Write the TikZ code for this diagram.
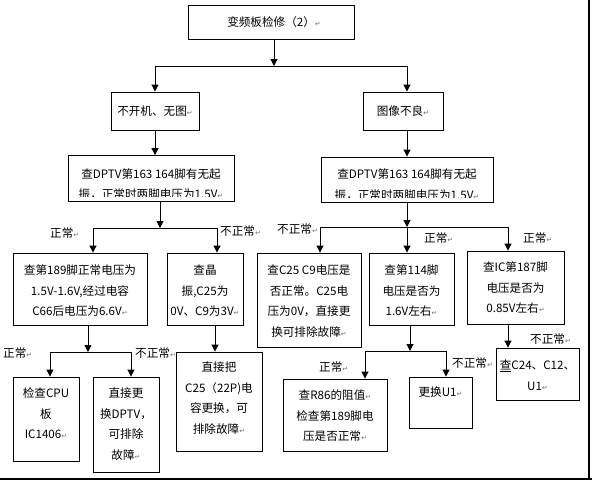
\documentclass[tikz,border=0pt]{standalone}
\usepackage{fontspec}
\setmainfont{Noto Sans CJK SC}
\newfontfamily\symfont{DejaVu Sans}
\usetikzlibrary{arrows.meta,calc}
\newcommand{\ret}{{\symfont\fontsize{7}{7}\selectfont\textcolor{black!55}{↵}}}
\begin{document}
\begin{tikzpicture}[x=1pt,y=-1pt,
  box/.style={draw, line width=0.9pt, inner sep=0pt},
  txt/.style={align=center, inner sep=0pt, anchor=north, font=\fontsize{11.6}{20.5}\selectfont},
  lbl/.style={inner sep=0pt, anchor=west, font=\fontsize{11.6}{14}\selectfont},
  arr/.style={line width=1pt, -{Triangle[length=7pt,width=7pt]}},
  ln/.style={line width=1pt}]
\useasboundingbox (0,0) rectangle (592,480);
\fill[white] (0,0) rectangle (592,480);
% boxes
\node[box, minimum width=166, minimum height=34] (top) at (271,22) {};
\node[box, minimum width=88, minimum height=38] (b1) at (155,111) {};
\node[box, minimum width=80, minimum height=38] (b2) at (403,111) {};
\node[box, minimum width=166, minimum height=46] (d1) at (151,178.5) {};
\node[box, minimum width=172, minimum height=45] (d2) at (407,179.5) {};
\node[box, minimum width=134, minimum height=72] (e1) at (80,289) {};
\node[box, minimum width=76, minimum height=72] (e2) at (205,289) {};
\node[box, minimum width=104, minimum height=94] (e3) at (309,300) {};
\node[box, minimum width=85, minimum height=72] (e4) at (411.5,289) {};
\node[box, minimum width=97, minimum height=73] (e5) at (515.5,287.5) {};
\node[box, minimum width=66, minimum height=84] (f1) at (46,419) {};
\node[box, minimum width=66, minimum height=95] (f2) at (126,424.5) {};
\node[box, minimum width=86, minimum height=99] (f3) at (219,401.5) {};
\node[box, minimum width=104, minimum height=72] (f4) at (335,415) {};
\node[box, minimum width=63, minimum height=51] (f5) at (440.5,402.5) {};
\node[box, minimum width=83, minimum height=52] (f6) at (537.5,374) {};
% texts
\node[txt, anchor=center] (topt) at ($(top.center)+(3,0)$) {变频板检修（2）\ret};
\node[txt, anchor=center] (b1t) at (b1.center) {不开机、无图\ret};
\node[txt, anchor=center] (b2t) at (b2.center) {图像不良\ret};
\begin{scope}
\clip (d1.north west) rectangle ($(d1.south east)+(0,-5)$);
\node[txt] (d1t) at ($(d1.north)+(0,13)$) {查DPTV第163 164脚有无起\\振，正常时两脚电压为1.5V\ret};
\end{scope}
\begin{scope}
\clip (d2.north west) rectangle ($(d2.south east)+(0,-5)$);
\node[txt] (d2t) at ($(d2.north)+(0,12)$) {查DPTV第163 164脚有无起\\振，正常时两脚电压为1.5V\ret};
\end{scope}
\node[txt] (e1t) at ($(e1.north)+(0,12)$) {查第189脚正常电压为\\1.5V-1.6V,经过电容\\C66后电压为6.6V\ret};
\node[txt] (e2t) at ($(e2.north)+(0,12)$) {查晶\\振,C25为\\0V、C9为3V\ret};
\node[txt] (e3t) at ($(e3.north)+(0,12)$) {查C25 C9电压是\\否正常。C25电\\压为0V，直接更\\换可排除故障\ret};
\node[txt] (e4t) at ($(e4.north)+(0,12)$) {查第114脚\\电压是否为\\1.6V左右\ret};
\node[txt] (e5t) at ($(e5.north)+(0,11)$) {查IC第187脚\\电压是否为\\0.85V左右\ret};
\node[txt] (f1t) at ($(f1.north)+(0,11)$) {检查CPU\\板\\IC1406\ret};
\node[txt] (f2t) at ($(f2.north)+(0,11)$) {直接更\\换DPTV，\\可排除\\故障\ret};
\node[txt] (f3t) at ($(f3.north)+(0,10)$) {直接把\\C25（22P)电\\容更换，可\\排除故障\ret};
\node[txt] (f4t) at ($(f4.north)+(0,11)$) {查R86的阻值\ret\\检查第189脚电\\压是否正常\ret};
\node[txt] (f5t) at ($(f5.north)+(0,10)$) {更换U1\ret};
\node[txt] (f6t) at ($(f6.north)+(0,12)$) {\underline{查}C24、C12、\\U1\ret};
% labels
\node[lbl] (l1) at (50,233) {正常\ret};
\node[lbl] (l2) at (220,231) {不正常\ret};
\node[lbl] (l3) at (277,229) {不正常\ret};
\node[lbl] (l4) at (424,238) {正常\ret};
\node[lbl] (l5) at (523,238) {正常\ret};
\node[lbl] (l6) at (3,353) {正常\ret};
\node[lbl] (l7) at (135,353) {不正常\ret};
\node[lbl] (l8) at (319,367) {正常\ret};
\node[lbl] (l9) at (452,363) {不正常\ret};
\node[lbl] (l10) at (530,339) {不正常\ret};
% junctions
\coordinate (j0) at (274,66);
\coordinate (j0l) at (155,66);
\coordinate (j0r) at (407,66);
\coordinate (j1) at (160,228);
\coordinate (j1l) at (93,228);
\coordinate (j1r) at (217,228);
\coordinate (j2) at (407,227);
\coordinate (j2l) at (320,227);
\coordinate (j2r) at (508,227);
\coordinate (j3) at (88,352);
\coordinate (j3l) at (50,352);
\coordinate (j3r) at (131,352);
\coordinate (c2) at (215,340);
\coordinate (j4) at (410,351);
\coordinate (j4l) at (365,351);
\coordinate (j4r) at (446,351);
% connectors
\draw[arr] (top.south -| j0) -- (j0);
\draw[ln] (j0l) -- (j0r);
\draw[arr] (j0l) -- (j0l |- b1.north);
\draw[arr] (j0r) -- (j0r |- b2.north);
\draw[arr] (b1.south) -- (b1.south |- d1.north);
\draw[arr] (j0r |- b2.south) -- (j0r |- d2.north);
\draw[arr] (d1.south -| j1) -- (j1);
\draw[ln] (j1l) -- (j1r);
\draw[arr] (j1l) -- (j1l |- e1.north);
\draw[arr] (j1r) -- (j1r |- e2.north);
\draw[arr] (d2.south -| j2) -- (j2);
\draw[ln] (j2l) -- (j2r);
\draw[arr] (j2l) -- (j2l |- e3.north);
\draw[arr] (j2) -- (j2 |- e4.north);
\draw[arr] (j2r) -- (j2r |- e5.north);
\draw[arr] (e1.south -| j3) -- (j3);
\draw[ln] (j3l) -- (j3r);
\draw[arr] (j3l) -- (j3l |- f1.north);
\draw[arr] (j3r) -- (j3r |- f2.north);
\draw[arr] (c2 |- e2.south) -- (c2 |- f3.north);
\draw[arr] (e4.south -| j4) -- (j4);
\draw[ln] (j4l) -- (j4r);
\draw[arr] (j4l) -- (j4l |- f4.north);
\draw[arr] (j4r) -- (j4r |- f5.north);
\draw[arr] (j2r |- e5.south) -- (j2r |- f6.north);
% frame edges
\draw[line width=2pt] (589,0) -- (589,480);
\draw[line width=2pt] (0,479) -- (592,479);
\end{tikzpicture}
\end{document}
